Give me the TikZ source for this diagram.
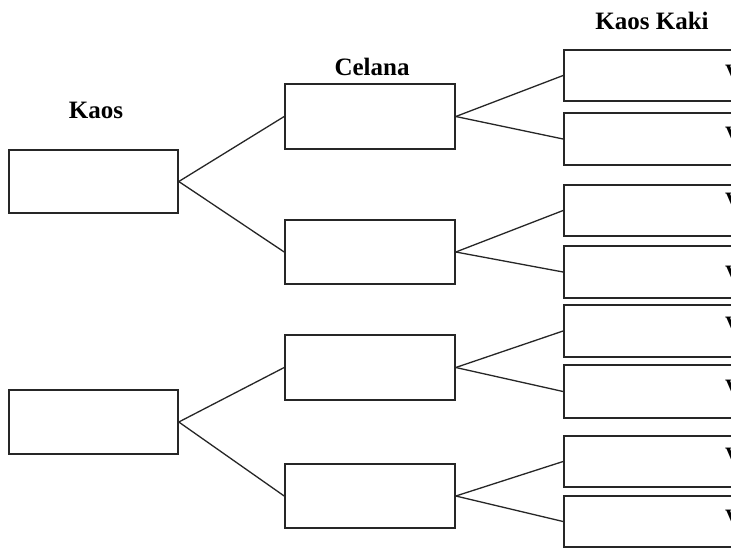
\documentclass[tikz,border=0pt]{standalone}
\usepackage{fontspec}
\setmainfont{Liberation Serif}
\begin{document}
\begin{tikzpicture}[x=1pt,y=-1pt,
  box/.style={draw=black!85,line width=1.6pt,fill=white,inner sep=0pt,minimum width=170pt},
  kbox/.style={draw=black!85,line width=1.8pt,fill=white,inner sep=0pt,minimum width=236pt,minimum height=51pt},
  link/.style={draw=black!85,line width=1.3pt},
  lbl/.style={font=\fontsize{25}{27}\selectfont\bfseries,inner sep=0pt},
  vmark/.style={font=\fontsize{22}{24}\selectfont\bfseries,inner sep=0pt,anchor=north west}]
\useasboundingbox (0,0) rectangle (731,547);
\clip (0,0) rectangle (731,547);
\fill[white] (0,0) rectangle (731,547);
% labels
\node[lbl] (lk) at (96,110) {Kaos};
\node[lbl] (lc) at (372,66.5) {Celana};
\node[lbl] (lkk) at (652,21) {Kaos Kaki};
% first level
\node[box,minimum width=169pt,minimum height=63pt] (k1) at (93.5,181.5) {};
\node[box,minimum width=169pt,minimum height=64pt] (k2) at (93.5,422) {};
% second level
\node[box,minimum height=65pt] (c1) at (370,116.5) {};
\node[box,minimum height=64pt] (c2) at (370,252) {};
\node[box,minimum height=65pt] (c3) at (370,367.5) {};
\node[box,minimum height=64pt] (c4) at (370,496) {};
% third level
\node[kbox] (d1) at (682,75.5) {};
\node[kbox,minimum height=52pt] (d2) at (682,139) {};
\node[kbox] (d3) at (682,210.5) {};
\node[kbox,minimum height=52pt] (d4) at (682,272) {};
\node[kbox,minimum height=52pt] (d5) at (682,331) {};
\node[kbox,minimum height=53pt] (d6) at (682,391.5) {};
\node[kbox] (d7) at (682,461.5) {};
\node[kbox] (d8) at (682,521.5) {};
% partial letters at the right edge (cut off in the reference too)
\node[vmark] (v1) at (725,65) {V};
\node[vmark] (v2) at (725,127) {V};
\node[vmark] (v3) at (725,193) {V};
\node[vmark] (v4) at (725,266) {V};
\node[vmark] (v5) at (725,317) {V};
\node[vmark] (v6) at (725,380) {V};
\node[vmark] (v7) at (725,448) {V};
\node[vmark] (v8) at (725,510) {V};
% connectors
\draw[link] (k1.east) -- (c1.west);
\draw[link] (k1.east) -- (c2.west);
\draw[link] (k2.east) -- (c3.west);
\draw[link] (k2.east) -- (c4.west);
\draw[link] (c1.east) -- (d1.west);
\draw[link] (c1.east) -- (d2.west);
\draw[link] (c2.east) -- (d3.west);
\draw[link] (c2.east) -- (d4.west);
\draw[link] (c3.east) -- (d5.west);
\draw[link] (c3.east) -- (d6.west);
\draw[link] (c4.east) -- (d7.west);
\draw[link] (c4.east) -- (d8.west);
\end{tikzpicture}
\end{document}
